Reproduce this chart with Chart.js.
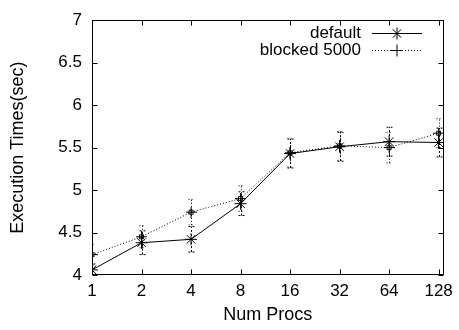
<!DOCTYPE html>
<html>
<head>
<meta charset="utf-8">
<script src="https://cdn.jsdelivr.net/npm/chart.js@4"></script>
<style>
  body { margin: 0; background: #fff; }
  #wrap { width: 459px; height: 330px; }
</style>
</head>
<body>
<div id="wrap"><canvas id="myChart" width="459" height="330"></canvas></div>
<script>
const procs = ["1", "2", "4", "8", "16", "32", "64", "128"];
const defaultTimes = [4.06, 4.38, 4.42, 4.84, 5.43, 5.51, 5.57, 5.56];
const defaultErr = [0.07, 0.14, 0.15, 0.14, 0.17, 0.17, 0.17, 0.17];
const blockedTimes = [4.24, 4.45, 4.74, 4.9, 5.44, 5.52, 5.5, 5.67];
const blockedErr = [0.12, 0.13, 0.15, 0.15, 0.17, 0.17, 0.18, 0.17];
const yTicks = ["4", "4.5", "5", "5.5", "6", "6.5", "7"];

const FONT = "'Liberation Sans', Arial, Helvetica, sans-serif";

// plus inside a little box, like the gnuplot points
function boxPlus() {
  const c = document.createElement("canvas");
  c.width = 11;
  c.height = 11;
  const g = c.getContext("2d");
  g.strokeStyle = "#000";
  g.lineWidth = 1;
  g.beginPath();
  g.moveTo(0, 5.5); g.lineTo(11, 5.5);
  g.moveTo(5.5, 0); g.lineTo(5.5, 11);
  g.rect(3.5, 3.5, 4, 4);
  g.stroke();
  return c;
}

const toPoints = (vals) => vals.map((v, i) => ({ x: i, y: v }));

const errorBars = {
  id: "errorBars",
  beforeDatasetsDraw(chart) {
    const { ctx, chartArea, scales } = chart;
    ctx.save();
    ctx.beginPath();
    ctx.rect(chartArea.left, chartArea.top, chartArea.right - chartArea.left, chartArea.bottom - chartArea.top);
    ctx.clip();
    ctx.strokeStyle = "#000";
    ctx.lineWidth = 1;
    chart.data.datasets.forEach((ds) => {
      ctx.setLineDash(ds.errDash);
      ds.data.forEach((p, i) => {
        const x = Math.round(scales.x.getPixelForValue(p.x)) + 0.5;
        const y1 = scales.y.getPixelForValue(p.y - ds.err[i]);
        const y2 = scales.y.getPixelForValue(p.y + ds.err[i]);
        ctx.beginPath();
        ctx.moveTo(x, y1); ctx.lineTo(x, y2);
        ctx.moveTo(x - 3, y1); ctx.lineTo(x + 3, y1);
        ctx.moveTo(x - 3, y2); ctx.lineTo(x + 3, y2);
        ctx.stroke();
      });
    });
    ctx.restore();
  },
};

const frame = {
  id: "frame",
  afterDraw(chart) {
    const { ctx, chartArea: a, scales } = chart;
    const l = Math.round(a.left) + 0.5, r = Math.round(a.right) - 0.5;
    const t = Math.round(a.top) + 0.5, b = Math.round(a.bottom) - 0.5;
    ctx.save();
    ctx.strokeStyle = "#000";
    ctx.lineWidth = 1;
    ctx.setLineDash([]);
    ctx.beginPath();
    ctx.rect(l, t, r - l, b - t);
    scales.x.ticks.forEach((tk) => {
      const x = Math.round(scales.x.getPixelForValue(tk.value)) + 0.5;
      ctx.moveTo(x, b); ctx.lineTo(x, b - 5);
      ctx.moveTo(x, t); ctx.lineTo(x, t + 5);
    });
    scales.y.ticks.forEach((tk) => {
      const y = Math.round(scales.y.getPixelForValue(tk.value)) + 0.5;
      ctx.moveTo(l, y); ctx.lineTo(l + 5, y);
      ctx.moveTo(r, y); ctx.lineTo(r - 5, y);
    });
    ctx.stroke();

    // key, top right
    ctx.font = "17px " + FONT;
    ctx.fillStyle = "#000";
    ctx.textAlign = "right";
    ctx.textBaseline = "middle";
    chart.data.datasets.forEach((ds, i) => {
      const y = 33 + i * 17;
      ctx.fillText(ds.label, 361, y);
      ctx.setLineDash(ds.borderDash);
      ctx.beginPath();
      ctx.moveTo(372, y + 0.5); ctx.lineTo(422, y + 0.5);
      ctx.stroke();
      ctx.setLineDash([]);
      Chart.helpers.drawPoint(ctx, { pointStyle: ds.keyStyle, radius: 6, rotation: 0, borderWidth: 1 }, 397, y + 0.5);
    });
    ctx.restore();
  },
};

new Chart(document.getElementById("myChart"), {
  type: "line",
  data: {
    datasets: [
      {
        label: "default",
        data: toPoints(defaultTimes),
        err: defaultErr,
        errDash: [2, 2],
        borderColor: "#000",
        borderWidth: 1,
        borderDash: [],
        pointStyle: "star",
        keyStyle: "star",
        pointRadius: 6,
        pointBorderColor: "#000",
        pointBorderWidth: 1,
      },
      {
        label: "blocked 5000",
        data: toPoints(blockedTimes),
        err: blockedErr,
        errDash: [1, 2],
        borderColor: "#000",
        borderWidth: 1,
        borderDash: [1, 2],
        pointStyle: boxPlus(),
        keyStyle: "cross",
        pointRadius: 5,
        pointBorderColor: "#000",
      },
    ],
  },
  options: {
    responsive: false,
    animation: false,
    events: [],
    layout: { padding: { top: 18, right: 14, left: 0, bottom: 0 } },
    plugins: { legend: { display: false }, tooltip: { enabled: false } },
    scales: {
      x: {
        type: "linear",
        min: 0,
        max: 7.1,
        afterBuildTicks: (s) => { s.ticks = procs.map((_, i) => ({ value: i })); },
        afterFit: (s) => { s.height = 55; },
        grid: { display: false, drawTicks: false },
        border: { display: false },
        ticks: {
          callback: (v) => procs[v],
          color: "#000",
          padding: 6,
          maxRotation: 0,
          font: { family: FONT, size: 17 },
        },
        title: {
          display: true,
          text: "Num Procs",
          color: "#000",
          padding: { top: 0, bottom: 4 },
          font: { family: FONT, size: 18 },
        },
      },
      y: {
        min: 4,
        max: 7,
        afterBuildTicks: (s) => { s.ticks = yTicks.map((t) => ({ value: Number(t) })); },
        afterFit: (s) => { s.width = 92; },
        grid: { display: false, drawTicks: false },
        border: { display: false },
        ticks: {
          callback: (v) => yTicks.find((t) => Number(t) === v),
          color: "#000",
          padding: 10,
          font: { family: FONT, size: 17 },
        },
        title: {
          display: true,
          text: "Execution Times(sec)",
          color: "#000",
          padding: { top: 7, bottom: 0 },
          font: { family: FONT, size: 18 },
        },
      },
    },
  },
  plugins: [errorBars, frame],
});
</script>
</body>
</html>
